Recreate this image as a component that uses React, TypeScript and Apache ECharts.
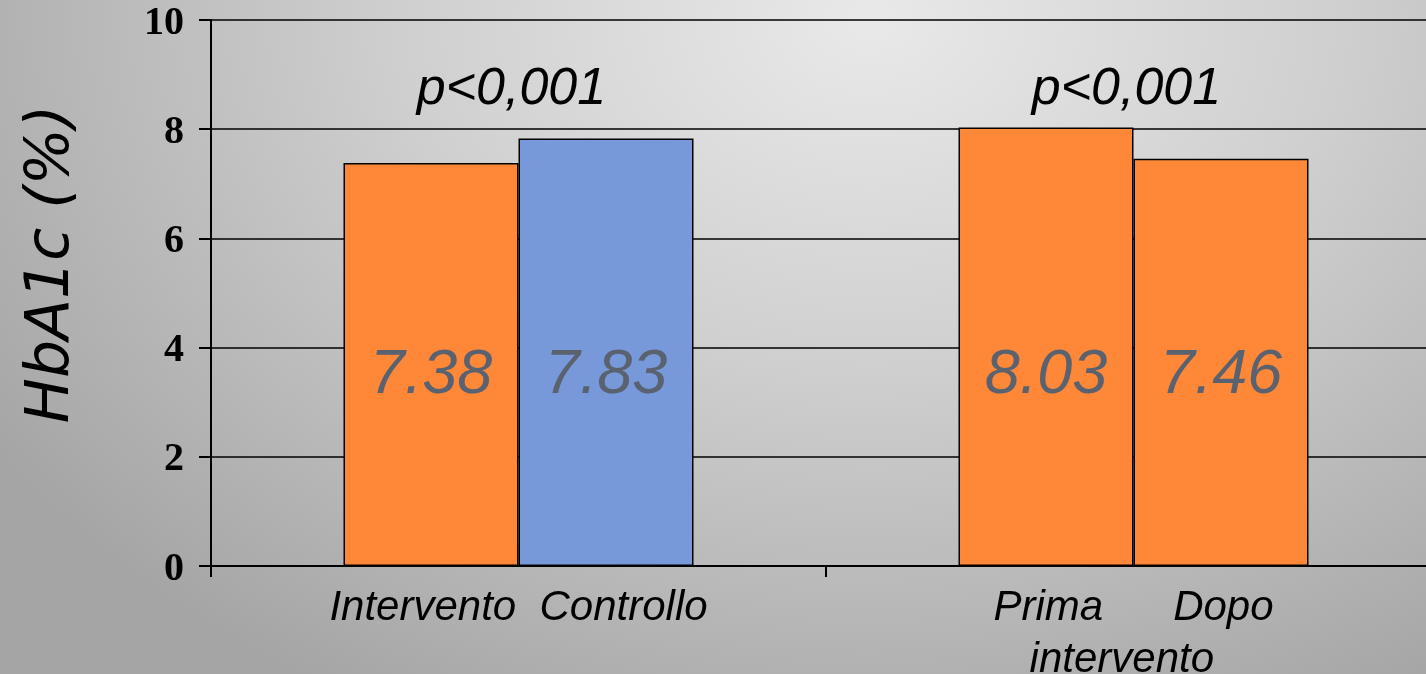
import React, { useEffect, useRef } from "react";
import * as echarts from "echarts";

// Two groups of HbA1c comparisons
const groupLabels = ["Intervento  Controllo", "Prima      Dopo\nintervento  "];
const firstBar = [7.38, 8.03];
const secondBar = [7.83, 7.46];
const firstColors = ["#ff8838", "#ff8838"];
const secondColors = ["#7799d9", "#ff8838"];
const pLabels = ["p<0,001", "p<0,001"];
const pLabelLevel = [8.8, 8.8];
const yTicks = [0, 2, 4, 6, 8, 10];

export default function App() {
  const ref = useRef<HTMLDivElement>(null);

  useEffect(() => {
    if (!ref.current) return;
    const chart = echarts.init(ref.current, undefined, { renderer: "svg" });

    const valueLabel = {
      show: true,
      position: "insideBottom" as const,
      distance: 163,
      fontFamily: "Liberation Sans",
      fontStyle: "italic" as const,
      fontSize: 63,
      lineHeight: 64,
      color: "#5a6270",
      formatter: (p: any) => Number(p.value).toFixed(2),
    };

    chart.setOption({
      animation: false,
      grid: {
        left: 211,
        top: 20,
        bottom: 108,
        right: 0,
        containLabel: false,
        outerBoundsMode: "none",
      },
      graphic: [
        {
          type: "text",
          x: 47,
          y: 264,
          rotation: Math.PI / 2,
          style: {
            text: "HbA1c (%)",
            fontFamily: "DejaVu Sans",
            fontStyle: "italic",
            fontSize: 60,
            fill: "#000",
            align: "center",
            verticalAlign: "middle",
          },
        },
      ],
      xAxis: {
        type: "category",
        data: groupLabels,
        axisLine: { lineStyle: { color: "#000", width: 2 } },
        axisTick: { show: true, length: 11, lineStyle: { color: "#000", width: 2 } },
        axisLabel: {
          margin: 13,
          fontFamily: "Liberation Sans",
          fontStyle: "italic",
          fontSize: 42,
          lineHeight: 52,
          color: "#000",
        },
      },
      yAxis: {
        type: "value",
        min: 0,
        max: 10,
        interval: 2,
        axisLine: { show: true, lineStyle: { color: "#000", width: 2 } },
        axisTick: { show: true, length: 12, lineStyle: { color: "#000", width: 2 } },
        splitLine: { lineStyle: { color: "#000", width: 1.5 } },
        axisLabel: {
          margin: 27,
          fontFamily: "Liberation Serif",
          fontWeight: "bold",
          fontSize: 40,
          lineHeight: 36,
          color: "#000",
          formatter: (v: number) => (yTicks.includes(v) ? String(v) : ""),
        },
      },
      series: [
        {
          type: "bar",
          barWidth: 175,
          barGap: "0%",
          data: firstBar.map((v, i) => ({ value: v, itemStyle: { color: firstColors[i] } })),
          itemStyle: { borderColor: "#000", borderWidth: 1.5 },
          label: valueLabel,
        },
        {
          type: "bar",
          barWidth: 175,
          barGap: "0%",
          data: secondBar.map((v, i) => ({ value: v, itemStyle: { color: secondColors[i] } })),
          itemStyle: { borderColor: "#000", borderWidth: 1.5 },
          label: valueLabel,
        },
        {
          type: "scatter",
          symbolSize: 1,
          itemStyle: { color: "rgba(0,0,0,0)", opacity: 1 },
          data: pLabelLevel.map((v, i) => [i, v]),
          label: {
            show: true,
            position: "inside",
            offset: [-7, 0],
            fontFamily: "Liberation Sans",
            fontStyle: "italic",
            fontSize: 52,
            color: "#000",
            opacity: 1,
            formatter: (p: any) => pLabels[p.dataIndex],
          },
          z: 5,
        },
      ],
    });

    return () => chart.dispose();
  }, []);

  return (
    <div
      style={{
        position: "fixed",
        left: 0,
        top: 0,
        width: 1426,
        height: 674,
        overflow: "hidden",
        background:
          "radial-gradient(ellipse 1050px 780px at 870px 20px, #e9e9e9 0%, #cfcfcf 45%, #a5a5a5 100%)",
      }}
    >
      <div ref={ref} style={{ width: 1441, height: 674 }} />
    </div>
  );
}
